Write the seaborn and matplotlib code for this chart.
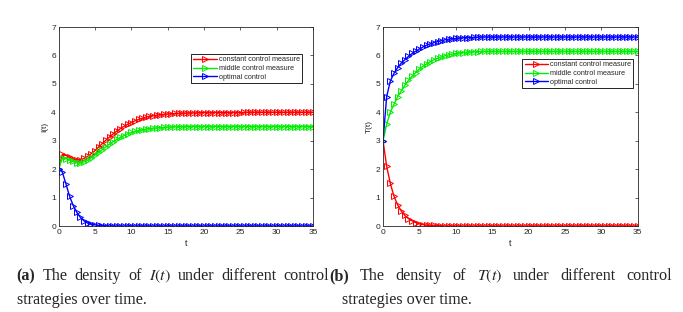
import numpy as np
import pandas as pd
import seaborn as sns
import matplotlib
matplotlib.use("Agg")
import matplotlib.pyplot as plt

# time grid of the simulation output (markers every 0.5)
t = np.arange(0, 35.5, 0.5)

series_names = ["constant control measure", "middle control measure", "optimal control"]
series_colors = ["#ff0000", "#00ee00", "#0000ff"]

# I(t) -- panel (a)
I_const = [2.00, 2.52, 2.48, 2.42, 2.35, 2.32, 2.33, 2.38, 2.45, 2.55,
           2.65, 2.78, 2.90, 3.02, 3.13, 3.24, 3.34, 3.43, 3.51, 3.58,
           3.64, 3.70, 3.75, 3.79, 3.83, 3.86, 3.88, 3.90, 3.92, 3.93,
           3.94, 3.95, 3.96, 3.96, 3.97, 3.97, 3.98, 3.98, 3.98, 3.99,
           3.99, 3.99, 3.99, 3.99, 3.99, 3.99, 3.99, 3.99, 3.99, 3.99,
           3.99, 4.00, 4.00, 4.00, 4.00, 4.00, 4.00, 4.00, 4.00, 4.00,
           4.00, 4.00, 4.00, 4.00, 4.00, 4.00, 4.00, 4.00, 4.00, 4.00,
           4.00]
I_mid = [2.00, 2.40, 2.37, 2.32, 2.27, 2.23, 2.23, 2.26, 2.32, 2.40,
         2.49, 2.59, 2.69, 2.79, 2.88, 2.97, 3.05, 3.12, 3.18, 3.24,
         3.29, 3.33, 3.36, 3.39, 3.41, 3.43, 3.44, 3.45, 3.46, 3.47,
         3.48, 3.48, 3.49, 3.49, 3.49, 3.50, 3.50, 3.50, 3.50, 3.50,
         3.50, 3.50, 3.50, 3.50, 3.50, 3.50, 3.50, 3.50, 3.50, 3.50,
         3.50, 3.50, 3.50, 3.50, 3.50, 3.50, 3.50, 3.50, 3.50, 3.50,
         3.50, 3.50, 3.50, 3.50, 3.50, 3.50, 3.50, 3.50, 3.50, 3.50,
         3.50]
I_opt = [2.00, 1.90, 1.48, 1.05, 0.72, 0.48, 0.30, 0.18, 0.10, 0.06,
         0.04, 0.02, 0.01, 0.01, 0.00, 0.00, 0.00, 0.00, 0.00, 0.00,
         0.00, 0.00, 0.00, 0.00, 0.00, 0.00, 0.00, 0.00, 0.00, 0.00,
         0.00, 0.00, 0.00, 0.00, 0.00, 0.00, 0.00, 0.00, 0.00, 0.00,
         0.00, 0.00, 0.00, 0.00, 0.00, 0.00, 0.00, 0.00, 0.00, 0.00,
         0.00, 0.00, 0.00, 0.00, 0.00, 0.00, 0.00, 0.00, 0.00, 0.00,
         0.00, 0.00, 0.00, 0.00, 0.00, 0.00, 0.00, 0.00, 0.00, 0.00,
         0.00]

# T(t) -- panel (b)
T_const = [3.00, 2.10, 1.50, 1.05, 0.75, 0.53, 0.37, 0.26, 0.18, 0.12,
           0.08, 0.05, 0.03, 0.02, 0.02, 0.01, 0.01, 0.00, 0.00, 0.00,
           0.00, 0.00, 0.00, 0.00, 0.00, 0.00, 0.00, 0.00, 0.00, 0.00,
           0.00, 0.00, 0.00, 0.00, 0.00, 0.00, 0.00, 0.00, 0.00, 0.00,
           0.00, 0.00, 0.00, 0.00, 0.00, 0.00, 0.00, 0.00, 0.00, 0.00,
           0.00, 0.00, 0.00, 0.00, 0.00, 0.00, 0.00, 0.00, 0.00, 0.00,
           0.00, 0.00, 0.00, 0.00, 0.00, 0.00, 0.00, 0.00, 0.00, 0.00,
           0.00]
T_mid = [3.00, 3.58, 4.00, 4.28, 4.55, 4.75, 4.95, 5.12, 5.27, 5.40,
         5.52, 5.62, 5.70, 5.78, 5.85, 5.90, 5.95, 5.99, 6.02, 6.05,
         6.07, 6.09, 6.10, 6.11, 6.12, 6.13, 6.13, 6.14, 6.14, 6.14,
         6.14, 6.14, 6.14, 6.14, 6.14, 6.14, 6.14, 6.14, 6.14, 6.14,
         6.14, 6.14, 6.14, 6.14, 6.14, 6.14, 6.14, 6.14, 6.14, 6.14,
         6.14, 6.14, 6.14, 6.14, 6.14, 6.14, 6.14, 6.14, 6.14, 6.14,
         6.14, 6.14, 6.14, 6.14, 6.14, 6.14, 6.14, 6.14, 6.14, 6.14,
         6.14]
T_opt = [3.00, 4.55, 5.10, 5.37, 5.57, 5.73, 5.85, 5.97, 6.07, 6.15,
         6.23, 6.30, 6.36, 6.41, 6.45, 6.49, 6.52, 6.55, 6.57, 6.59,
         6.60, 6.61, 6.62, 6.63, 6.63, 6.64, 6.64, 6.65, 6.65, 6.65,
         6.65, 6.65, 6.65, 6.65, 6.65, 6.65, 6.65, 6.65, 6.65, 6.65,
         6.65, 6.65, 6.65, 6.65, 6.65, 6.65, 6.65, 6.65, 6.65, 6.65,
         6.65, 6.65, 6.65, 6.65, 6.65, 6.65, 6.65, 6.65, 6.65, 6.65,
         6.65, 6.65, 6.65, 6.65, 6.65, 6.65, 6.65, 6.65, 6.65, 6.65,
         6.65]

x_ticks = [0, 5, 10, 15, 20, 25, 30, 35]
y_ticks = [0, 1, 2, 3, 4, 5, 6, 7]

caption_a = ["(a)", "The", "density", "of", "$I(t)$", "under", "different", "control"]
caption_b = ["(b)", "The", "density", "of", "$T(t)$", "under", "different", "control"]
caption_2 = "strategies over time."

sns.set_style("white")
plt.rcParams["font.family"] = ["Liberation Sans", "DejaVu Sans"]
plt.rcParams["mathtext.fontset"] = "stix"

fig = plt.figure(figsize=(6.83, 3.12), dpi=100)
ax1 = fig.add_axes([0.0859, 0.2756, 0.3723, 0.6378])
ax2 = fig.add_axes([0.5608, 0.2756, 0.3729, 0.6378])


def draw_panel(ax, data, ylabel, legend_anchor):
    for vals, name, col in zip(data, series_names, series_colors):
        df = pd.DataFrame({"t": t, "v": vals})
        sns.lineplot(data=df, x="t", y="v", ax=ax, color=col, linewidth=1.0,
                     marker=">", markersize=4, markerfacecolor="none",
                     markeredgecolor=col, markeredgewidth=0.7, label=name)
    ax.set_xlim(0, 35)
    ax.set_ylim(0, 7)
    ax.set_xticks(x_ticks)
    ax.set_yticks(y_ticks)
    ax.tick_params(direction="in", length=2.5, width=0.5, labelsize=6,
                   top=True, right=True, pad=2, colors="#262626")
    for sp in ax.spines.values():
        sp.set_linewidth(0.6)
        sp.set_color("#262626")
        sp.set_visible(True)
    ax.set_xlabel("t", fontsize=6.5, labelpad=2)
    ax.set_ylabel(ylabel, fontsize=6, labelpad=2)
    leg = ax.legend(loc="upper right", bbox_to_anchor=legend_anchor, fontsize=5.2,
                    frameon=True, fancybox=False, edgecolor="black", framealpha=1,
                    handlelength=3.2, handletextpad=0.3, borderpad=0.3,
                    labelspacing=0.25, borderaxespad=0, numpoints=1)
    leg.get_frame().set_linewidth(0.6)


draw_panel(ax1, [I_const, I_mid, I_opt], "I(t)", (0.957, 0.864))
draw_panel(ax2, [T_const, T_mid, T_opt], "T(t)", (0.982, 0.839))

cap_size = 11.6


def justified_line(words, x0, x1, y_px):
    # lay the words out left to right, spreading the spare room between them
    renderer = fig.canvas.get_renderer()
    texts = []
    for i, w in enumerate(words):
        txt = fig.text(0, 312 - y_px, w, fontsize=cap_size, family="Liberation Serif",
                       fontweight="bold" if i == 0 else "normal",
                       va="baseline", ha="left", transform=None)
        texts.append(txt)
    widths = [tx.get_window_extent(renderer).width for tx in texts]
    gap = (x1 - x0 - sum(widths)) / (len(words) - 1)
    x = x0
    for tx, w in zip(texts, widths):
        tx.set_position((x, 312 - y_px))
        x += w + gap


justified_line(caption_a, 16.7, 329, 280)
justified_line(caption_b, 329, 672, 280)
fig.text(16.7 / 683, 1 - 304.5 / 312, caption_2, fontsize=cap_size,
         family="Liberation Serif", va="baseline", ha="left")
fig.text(341.7 / 683, 1 - 304.5 / 312, caption_2, fontsize=cap_size,
         family="Liberation Serif", va="baseline", ha="left")

fig.savefig("out.png", dpi=100)
